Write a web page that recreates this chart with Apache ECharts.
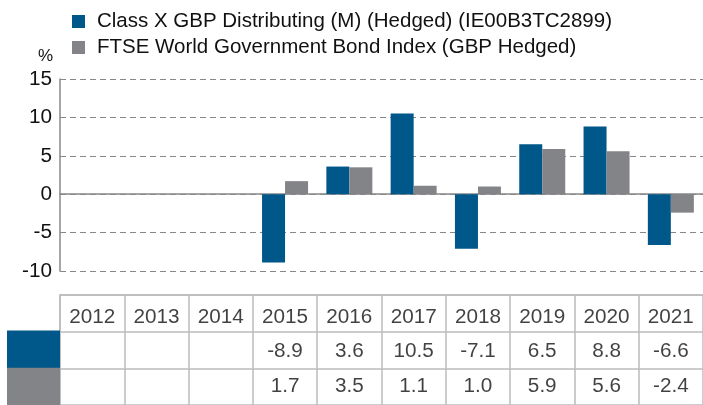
<!DOCTYPE html>
<html>
<head>
<meta charset="utf-8">
<script src="https://cdn.jsdelivr.net/npm/echarts@6/dist/echarts.min.js"></script>
<style>
  html, body { margin: 0; padding: 0; background: #fff; }
  #chart { width: 703px; height: 405px; }
</style>
</head>
<body>
<div id="chart"></div>
<script>
// data
var years = ['2012', '2013', '2014', '2015', '2016', '2017', '2018', '2019', '2020', '2021']
var fundName = 'Class X GBP Distributing (M) (Hedged) (IE00B3TC2899)'
var indexName = 'FTSE World Government Bond Index (GBP Hedged)'
var fundValues = [null, null, null, -8.9, 3.6, 10.5, -7.1, 6.5, 8.8, -6.6]
var indexValues = [null, null, null, 1.7, 3.5, 1.1, 1.0, 5.9, 5.6, -2.4]
var tableRows = ['header', 'fund', 'index']

var blue = '#00578a'
var grey = '#838487'
var font = 'Liberation Sans, Arial, sans-serif'

// table cells built from the arrays above
var headerCells = years.map(function (y) { return [y, 'header', y] })
var fundCells = []
var indexCells = []
years.forEach(function (y, i) {
  if (fundValues[i] !== null) fundCells.push([y, 'fund', fundValues[i].toFixed(1)])
  if (indexValues[i] !== null) indexCells.push([y, 'index', indexValues[i].toFixed(1)])
})

function cellLabel(dy) {
  return {
    show: true,
    position: 'inside',
    offset: [0, dy],
    formatter: function (p) { return p.data[2] },
    color: '#111',
    fontSize: 20.7,
    fontFamily: font
  }
}

var chart = echarts.init(document.getElementById('chart'))
chart.setOption({
  animation: false,
  textStyle: { fontFamily: font },
  title: {
    text: '%',
    left: 33,
    top: 43,
    textStyle: { fontSize: 17, fontWeight: 'normal', color: '#111', fontFamily: font }
  },
  legend: {
    data: [fundName, indexName],
    orient: 'vertical',
    left: 72,
    top: 11,
    padding: 0,
    icon: 'rect',
    itemWidth: 13,
    itemHeight: 13,
    itemGap: 5,
    textStyle: { fontSize: 20.5, color: '#111', fontFamily: font, padding: [0, 0, 0, 7] }
  },
  grid: [
    { left: 60, right: -6, top: 79, height: 192 },
    { left: 60, right: -6, top: 295, height: 114 }
  ],
  xAxis: [
    {
      gridIndex: 0,
      type: 'category',
      data: years,
      axisLine: { show: true, lineStyle: { color: '#888', width: 1.5 } },
      axisTick: { show: false },
      axisLabel: { show: false }
    },
    {
      gridIndex: 1,
      type: 'category',
      data: years,
      position: 'top',
      axisLine: { show: true, lineStyle: { color: '#bbb', width: 1.5 } },
      axisTick: { show: false },
      axisLabel: { show: false },
      splitLine: { show: true, lineStyle: { color: '#bbb', width: 1.5 } }
    }
  ],
  yAxis: [
    {
      gridIndex: 0,
      type: 'value',
      min: -10,
      max: 15,
      interval: 5,
      axisLine: { show: true, lineStyle: { color: '#888', width: 1.5 } },
      axisTick: { show: false },
      axisLabel: { color: '#111', fontSize: 20.7, margin: 8, fontFamily: font },
      splitLine: { show: true, lineStyle: { color: '#888', type: [6, 4], width: 1.2 } }
    },
    {
      gridIndex: 1,
      type: 'category',
      data: tableRows,
      inverse: true,
      axisLine: { show: true, lineStyle: { color: '#bbb', width: 1.5 } },
      axisTick: { show: false },
      splitLine: { show: true, lineStyle: { color: '#bbb', width: 1.5 } },
      axisLabel: {
        margin: 0,
        interval: 0,
        hideOverlap: false,
        formatter: function (v) {
          if (v === 'fund') return '{b|}'
          if (v === 'index') return '{g|}'
          return ''
        },
        rich: {
          b: { width: 53, height: 39, backgroundColor: blue },
          g: { width: 53, height: 38, backgroundColor: grey }
        }
      }
    }
  ],
  series: [
    {
      name: fundName,
      type: 'bar',
      xAxisIndex: 0,
      yAxisIndex: 0,
      data: fundValues,
      barWidth: 23,
      barGap: '0%',
      itemStyle: { color: blue }
    },
    {
      name: indexName,
      type: 'bar',
      xAxisIndex: 0,
      yAxisIndex: 0,
      data: indexValues,
      barWidth: 23,
      barGap: '0%',
      itemStyle: { color: grey }
    },
    {
      type: 'scatter',
      xAxisIndex: 1,
      yAxisIndex: 1,
      symbolSize: 0,
      data: headerCells,
      label: cellLabel(4)
    },
    {
      type: 'scatter',
      xAxisIndex: 1,
      yAxisIndex: 1,
      symbolSize: 0,
      data: fundCells,
      label: cellLabel(1)
    },
    {
      type: 'scatter',
      xAxisIndex: 1,
      yAxisIndex: 1,
      symbolSize: 0,
      data: indexCells,
      label: cellLabel(0)
    }
  ]
})
</script>
</body>
</html>
